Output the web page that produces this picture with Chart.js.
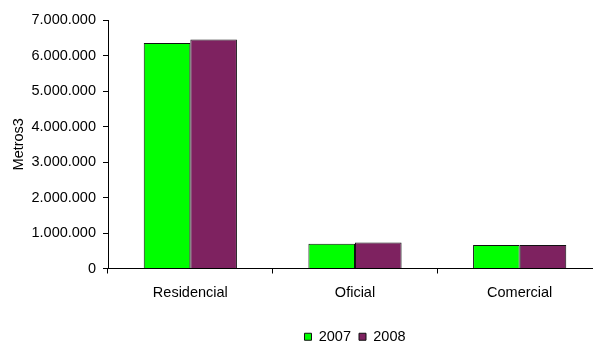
<!DOCTYPE html>
<html>
<head>
<meta charset="utf-8">
<script src="https://cdn.jsdelivr.net/npm/chart.js@4/dist/chart.umd.min.js"></script>
<style>
  html, body { margin: 0; padding: 0; background: #fff; overflow: hidden; }
  #wrap { position: relative; width: 602px; height: 343px; }
</style>
</head>
<body>
<div id="wrap"><canvas id="grafico"></canvas></div>
<script>
// datos
const categorias = ['Residencial', 'Oficial', 'Comercial'];
const serie2007 = [6350000, 700000, 660000];
const serie2008 = [6450000, 730000, 665000];
const tituloY = 'Metros3';

// 1.000.000 con puntos
function puntos(v) {
  return String(v).replace(/\B(?=(\d{3})+(?!\d))/g, '.');
}

Chart.defaults.font.family = '"Liberation Sans", Arial, sans-serif';
Chart.defaults.font.size = 14.5;
Chart.defaults.color = '#000';

new Chart(document.getElementById('grafico'), {
  type: 'bar',
  data: {
    labels: categorias,
    datasets: [
      { label: '2007', data: serie2007, backgroundColor: '#00ff00', borderColor: '#111', borderWidth: 1 },
      { label: '2008', data: serie2008, backgroundColor: '#7e2260', borderColor: '#111', borderWidth: 1 }
    ]
  },
  options: {
    responsive: true,
    maintainAspectRatio: false,
    animation: false,
    datasets: { bar: { categoryPercentage: 0.566, barPercentage: 1 } },
    layout: { padding: { top: 20, right: 0, left: 0, bottom: -11 } },
    plugins: {
      tooltip: { enabled: false },
      legend: {
        position: 'bottom',
        fullSize: false,
        labels: { boxWidth: 7, boxHeight: 7, padding: 8, font: { size: 14.5 } }
      }
    },
    scales: {
      x: {
        grid: { drawOnChartArea: false, drawTicks: true, tickLength: 5, color: '#000' },
        border: { color: '#000', width: 1 },
        ticks: { padding: 11 },
        afterFit: s => { s.height = 53; }
      },
      y: {
        min: 0,
        max: 7000000,
        grid: { drawOnChartArea: false, drawTicks: true, tickLength: 5, color: '#000' },
        border: { color: '#000', width: 1 },
        ticks: { stepSize: 1000000, padding: 7, callback: v => puntos(v) },
        title: { display: true, text: tituloY, font: { size: 14.5 }, padding: { top: 10, bottom: 0 } },
        afterFit: s => { s.width = 108; }
      }
    }
  }
});
</script>
</body>
</html>
